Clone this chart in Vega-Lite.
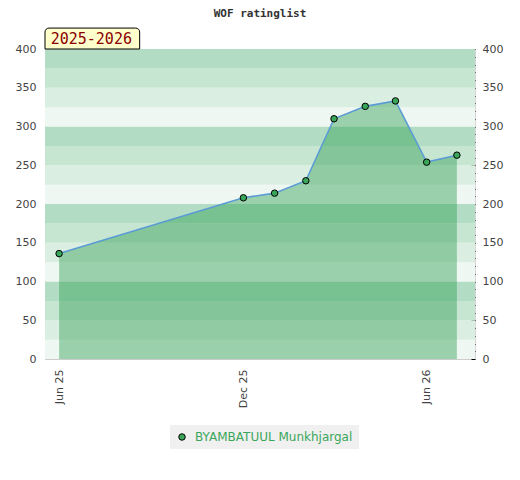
{
  "$schema": "https://vega.github.io/schema/vega-lite/v6.json",
  "width": 430,
  "height": 310,
  "autosize": {"type": "none"},
  "padding": {"left": 45, "top": 49, "right": 45, "bottom": 121},
  "background": "white",
  "title": {
    "text": "WOF ratinglist",
    "font": "DejaVu Sans Mono",
    "fontSize": 11,
    "fontWeight": "bold",
    "color": "#333333",
    "anchor": "middle",
    "baseline": "alphabetic",
    "offset": 0
  },
  "config": {
    "view": {"stroke": "#d6d6d6"},
    "axis": {
      "labelFont": "DejaVu Sans",
      "labelFontSize": 11,
      "labelColor": "#444444",
      "domainColor": "#cccccc",
      "grid": false,
      "title": null
    }
  },
  "datasets": {
    "ratings": [
      {"player": "BYAMBATUUL Munkhjargal", "date": "2025-06-01", "rating": 136},
      {"player": "BYAMBATUUL Munkhjargal", "date": "2025-12-01", "rating": 208},
      {"player": "BYAMBATUUL Munkhjargal", "date": "2026-01-01", "rating": 214},
      {"player": "BYAMBATUUL Munkhjargal", "date": "2026-02-01", "rating": 230},
      {"player": "BYAMBATUUL Munkhjargal", "date": "2026-03-01", "rating": 310},
      {"player": "BYAMBATUUL Munkhjargal", "date": "2026-04-01", "rating": 326},
      {"player": "BYAMBATUUL Munkhjargal", "date": "2026-05-01", "rating": 333},
      {"player": "BYAMBATUUL Munkhjargal", "date": "2026-06-01", "rating": 254},
      {"player": "BYAMBATUUL Munkhjargal", "date": "2026-07-01", "rating": 263}
    ],
    "bands": [
      {"lo": 0, "hi": 25, "level": "d"},
      {"lo": 25, "hi": 50, "level": "c"},
      {"lo": 50, "hi": 75, "level": "b"},
      {"lo": 75, "hi": 100, "level": "a"},
      {"lo": 100, "hi": 125, "level": "d"},
      {"lo": 125, "hi": 150, "level": "c"},
      {"lo": 150, "hi": 175, "level": "b"},
      {"lo": 175, "hi": 200, "level": "a"},
      {"lo": 200, "hi": 225, "level": "d"},
      {"lo": 225, "hi": 250, "level": "c"},
      {"lo": 250, "hi": 275, "level": "b"},
      {"lo": 275, "hi": 300, "level": "a"},
      {"lo": 300, "hi": 325, "level": "d"},
      {"lo": 325, "hi": 350, "level": "c"},
      {"lo": 350, "hi": 375, "level": "b"},
      {"lo": 375, "hi": 400, "level": "a"}
    ],
    "season": [{"label": "2025-2026"}]
  },
  "layer": [
    {
      "data": {"name": "bands"},
      "mark": {"type": "rect"},
      "encoding": {
        "y": {
          "field": "lo",
          "type": "quantitative",
          "scale": {"domain": [0, 400], "nice": false, "zero": true},
          "axis": {
            "orient": "left",
            "values": [0, 50, 100, 150, 200, 250, 300, 350, 400],
            "ticks": false,
            "labelPadding": 9
          }
        },
        "y2": {"field": "hi"},
        "color": {
          "field": "level",
          "type": "nominal",
          "scale": {
            "domain": ["a", "b", "c", "d"],
            "range": ["#b2dcc3", "#c6e6d2", "#dbeee2", "#eef7f1"]
          },
          "legend": null
        }
      }
    },
    {
      "data": {"name": "ratings"},
      "mark": {"type": "area", "color": "#289c4c", "opacity": 0.42},
      "encoding": {
        "x": {
          "field": "date",
          "type": "temporal",
          "scale": {
            "type": "utc",
            "domain": [
              {"year": 2025, "month": 5, "date": 18, "utc": true},
              {"year": 2026, "month": 7, "date": 19, "utc": true}
            ]
          },
          "axis": {
            "values": [
              {"year": 2025, "month": 6, "date": 1, "utc": true},
              {"year": 2025, "month": 12, "date": 1, "utc": true},
              {"year": 2026, "month": 6, "date": 1, "utc": true}
            ],
            "labelExpr": "utcFormat(datum.value, '%b %y')",
            "labelAngle": -90,
            "ticks": false,
            "labelPadding": 10
          }
        },
        "y": {"field": "rating", "type": "quantitative", "axis": null}
      }
    },
    {
      "data": {"name": "ratings"},
      "transform": [{"filter": {"field": "date", "oneOf": ["2025-06-01", "2026-07-01"]}}],
      "mark": {"type": "rule", "color": "#2e9e50", "strokeWidth": 1},
      "encoding": {
        "x": {"field": "date", "type": "temporal"},
        "y": {"field": "rating", "type": "quantitative", "axis": null},
        "y2": {"datum": 0}
      }
    },
    {
      "data": {"name": "ratings"},
      "mark": {"type": "line", "color": "#5b9bd5", "strokeWidth": 1.6},
      "encoding": {
        "x": {"field": "date", "type": "temporal"},
        "y": {
          "field": "rating",
          "type": "quantitative",
          "axis": {
            "orient": "right",
            "offset": -4,
            "domain": false,
            "values": [0, 10, 20, 30, 40, 50, 60, 70, 80, 90, 100, 110, 120, 130, 140, 150, 160, 170, 180, 190, 200, 210, 220, 230, 240, 250, 260, 270, 280, 290, 300, 310, 320, 330, 340, 350, 360, 370, 380, 390, 400],
            "labelExpr": "datum.value % 50 === 0 ? datum.label : ''",
            "tickColor": "#000000",
            "tickSize": 4,
            "labelPadding": 7
          }
        }
      }
    },
    {
      "data": {"name": "ratings"},
      "mark": {"type": "point", "filled": true, "size": 42, "stroke": "#000000", "strokeWidth": 1, "opacity": 1},
      "encoding": {
        "x": {"field": "date", "type": "temporal"},
        "y": {"field": "rating", "type": "quantitative", "axis": null},
        "color": {
          "field": "player",
          "type": "nominal",
          "scale": {"range": ["#3aa65a"]},
          "legend": {
            "title": null,
            "orient": "none",
            "legendX": 125,
            "legendY": 376,
            "fillColor": "#f0f0f0",
            "padding": 6,
            "symbolType": "circle",
            "symbolSize": 42,
            "symbolStrokeColor": "#000000",
            "symbolStrokeWidth": 1,
            "labelOffset": 7,
            "labelColor": "#3aa65a",
            "labelFont": "DejaVu Sans",
            "labelFontSize": 12
          }
        }
      }
    },
    {
      "data": {"name": "season"},
      "mark": {"type": "rect", "fill": "#ffffcc", "stroke": "#000000", "strokeWidth": 1, "cornerRadiusTopLeft": 4, "cornerRadiusTopRight": 4},
      "encoding": {
        "x": {"datum": {"year": 2025, "month": 5, "date": 18, "utc": true}, "type": "temporal"},
        "x2": {"datum": {"year": 2025, "month": 8, "date": 20, "utc": true}},
        "y": {"datum": 400, "type": "quantitative", "axis": null},
        "y2": {"datum": 427}
      }
    },
    {
      "data": {"name": "season"},
      "mark": {"type": "text", "font": "DejaVu Sans Mono", "fontSize": 15, "color": "#8b0000", "baseline": "middle", "align": "center"},
      "encoding": {
        "x": {"datum": {"year": 2025, "month": 7, "date": 3, "utc": true}, "type": "temporal"},
        "y": {"datum": 413.5, "type": "quantitative", "axis": null},
        "text": {"field": "label"}
      }
    }
  ],
  "resolve": {
    "scale": {"color": "independent"},
    "axis": {"y": "independent"},
    "legend": {"color": "independent"}
  }
}
